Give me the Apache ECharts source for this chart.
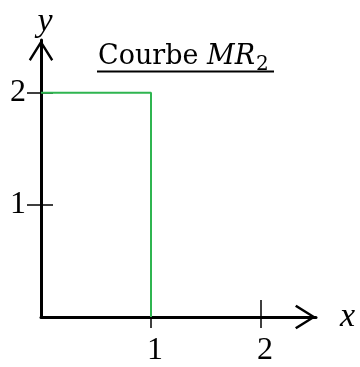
<!DOCTYPE html>
<html>
<head>
<meta charset="utf-8">
<script src="https://cdn.jsdelivr.net/npm/echarts@6/dist/echarts.min.js"></script>
<style>html,body{margin:0;padding:0;background:#fff;}#c{width:360px;height:367px;}</style>
</head>
<body>
<div id="c"></div>
<script>
// Data
const curveX = [0, 1, 1];
const curveY = [2, 2, 0];
const xTicks = [1, 2];
const yTicks = [1, 2];
const xName = 'x';
const yName = 'y';
const titleMain = 'Courbe ';
const titleVar = 'MR';
const titleSub = '2';

const chart = echarts.init(document.getElementById('c'), null, {renderer: 'canvas'});
const serif = '"Liberation Serif", "DejaVu Serif", serif';
const tserif = '"DejaVu Serif", "Liberation Serif", serif';
const arrowPath = 'path://M50,0 L100,80 L92,86 L50,18 L8,86 L0,80 Z';

const xMax = 2.5, yMax = 2.47;

const option = {
  animation: false,
  backgroundColor: '#fff',
  title: {
    left: 93, top: 35,
    text: '{a|' + titleMain + '}{b|' + titleVar + '}{s|' + titleSub + '}',
    textStyle: {
      fontWeight: 'normal',
      rich: {
        a: {fontFamily: tserif, fontSize: 27, fontWeight: 'normal', color: '#000', lineHeight: 30, verticalAlign: 'bottom'},
        b: {fontFamily: tserif, fontSize: 27, fontWeight: 'normal', fontStyle: 'italic', color: '#000', lineHeight: 30, verticalAlign: 'bottom'},
        s: {fontFamily: tserif, fontSize: 20, fontWeight: 'normal', color: '#000', lineHeight: 30, verticalAlign: 'bottom', padding: [0, 0, -5, 1]}
      }
    }
  },
  graphic: [{
    type: 'line', shape: {x1: 97, y1: 71.5, x2: 274, y2: 71.5},
    style: {stroke: '#000', lineWidth: 2}
  }],
  grid: {left: 41, right: 44, top: 40, bottom: 50},
  xAxis: [{
    type: 'value', min: 0, max: xMax, position: 'bottom',
    splitLine: {show: false},
    axisLine: {show: true, lineStyle: {color: '#000', width: 3}, symbol: ['none', arrowPath], symbolSize: [25, 21], symbolOffset: [0, -10.5]},
    axisTick: {show: true, customValues: xTicks, length: 11, lineStyle: {color: '#000', width: 1.5}},
    axisLabel: {customValues: xTicks, fontFamily: serif, fontSize: 32, color: '#000', margin: 18, padding: [0, 0, 0, 8]},
    name: xName, nameLocation: 'end', nameGap: 24,
    nameTextStyle: {fontFamily: serif, fontStyle: 'italic', fontSize: 34, color: '#000', verticalAlign: 'middle', padding: [12, 0, 0, 0]}
  }, {
    type: 'value', min: 0, max: xMax, position: 'bottom',
    splitLine: {show: false},
    axisLine: {show: false},
    axisTick: {show: true, inside: true, customValues: xTicks, length: 17, lineStyle: {color: '#000', width: 1.5}},
    axisLabel: {show: false}
  }],
  yAxis: [{
    type: 'value', min: 0, max: yMax, position: 'left',
    splitLine: {show: false},
    axisLine: {show: true, lineStyle: {color: '#000', width: 3}, symbol: ['none', arrowPath], symbolSize: [25, 21], symbolOffset: [0, -10.5]},
    axisTick: {show: true, customValues: yTicks, length: 14, lineStyle: {color: '#000', width: 1.5}},
    axisLabel: {customValues: yTicks, fontFamily: serif, fontSize: 32, color: '#000', margin: 15, padding: [8, 0, 0, 0]},
    name: yName, nameLocation: 'end', nameGap: 1,
    nameTextStyle: {fontFamily: serif, fontStyle: 'italic', fontSize: 34, color: '#000', align: 'center', padding: [0, 0, 0, 8]}
  }, {
    type: 'value', min: 0, max: yMax, position: 'left',
    splitLine: {show: false},
    axisLine: {show: false},
    axisTick: {show: true, inside: true, customValues: yTicks, length: 12, lineStyle: {color: '#000', width: 1.5}},
    axisLabel: {show: false}
  }],
  series: [{
    type: 'line',
    xAxisIndex: 0, yAxisIndex: 0,
    data: curveX.map((x, i) => [x, curveY[i]]),
    showSymbol: false,
    lineStyle: {color: '#2fb550', width: 2},
    z: 5
  }]
};
chart.setOption(option);
</script>
</body>
</html>
